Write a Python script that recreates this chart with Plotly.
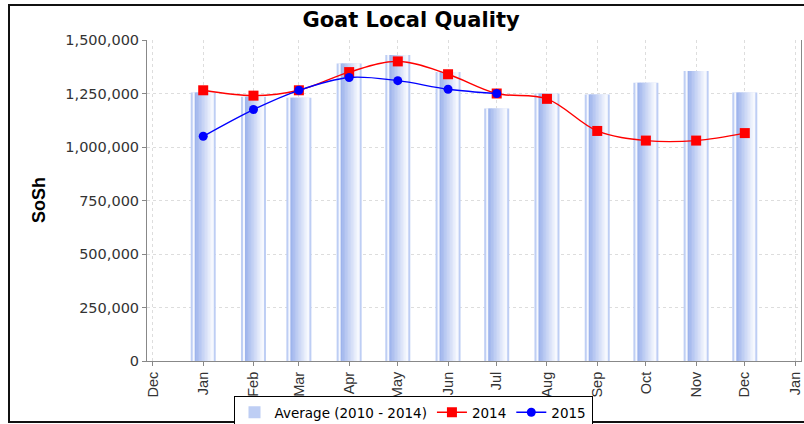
import plotly.graph_objects as go

# ---------------- data ----------------
months = ["2014-01-01", "2014-02-01", "2014-03-01", "2014-04-01", "2014-05-01", "2014-06-01",
          "2014-07-01", "2014-08-01", "2014-09-01", "2014-10-01", "2014-11-01", "2014-12-01"]
avg_2010_2014 = [1255000, 1235000, 1230000, 1390000, 1430000, 1350000,
                 1180000, 1250000, 1245000, 1300000, 1355000, 1255000]
y2014 = [1265000, 1240000, 1265000, 1350000, 1400000, 1340000,
         1250000, 1225000, 1075000, 1030000, 1030000, 1065000]
months_2015 = months[:7]
y2015 = [1050000, 1175000, 1265000, 1325000, 1310000, 1270000, 1250000]

tick_dates = ["2013-12-01"] + months + ["2015-01-01"]
tick_labels = ["Dec", "Jan", "Feb", "Mar", "Apr", "May", "Jun", "Jul", "Aug", "Sep", "Oct", "Nov", "Dec", "Jan"]
y_ticks = [0, 250000, 500000, 750000, 1000000, 1250000, 1500000]

FONT_WIDE = "DejaVu Sans, Verdana, sans-serif"
FONT = "Liberation Sans, Arial, sans-serif"

# ---------------- geometry helpers (pixel -> ms on the date axis) ----------------
DAY_MS = 86400000
PX = (396 / 642) * DAY_MS   # one screen pixel in axis units

fig = go.Figure()

# outer light frame of each bar
fig.add_trace(go.Bar(x=months, y=avg_2010_2014, name="Average (2010 - 2014)",
                     width=[25 * PX] * 12, offset=[-12.5 * PX] * 12,
                     marker=dict(color="rgb(190,206,244)", line=dict(width=0)),
                     hoverinfo="skip"))
# white gap inside
fig.add_trace(go.Bar(x=months, y=avg_2010_2014, showlegend=False,
                     width=[21 * PX] * 12, offset=[-10.5 * PX] * 12,
                     marker=dict(color="rgb(246,248,254)", line=dict(width=0)),
                     hoverinfo="skip"))
# gradient body
n = 12
left_c = (158, 180, 236)
right_c = (246, 248, 254)
body_left = -8.5
body_w = 18.0
for i in range(n):
    t = i / (n - 1)
    c = tuple(int(round(left_c[k] + (right_c[k] - left_c[k]) * t)) for k in range(3))
    fig.add_trace(go.Bar(x=months, y=avg_2010_2014, showlegend=False,
                         width=[(body_w / n + 0.6) * PX] * 12,
                         offset=[(body_left + i * body_w / n) * PX] * 12,
                         marker=dict(color="rgb(%d,%d,%d)" % c, line=dict(width=0)),
                         hoverinfo="skip"))

fig.add_trace(go.Scatter(x=months, y=y2014, name="2014", mode="lines+markers",
                         line=dict(color="#ff0000", width=1.4, shape="spline"),
                         marker=dict(symbol="square", size=10, color="#ff0000")))
fig.add_trace(go.Scatter(x=months_2015, y=y2015, name="2015", mode="lines+markers",
                         line=dict(color="#0000ff", width=1.4, shape="spline"),
                         marker=dict(symbol="circle", size=9, color="#0000ff")))

L, R, T, B = 147, 3, 40, 63
W, H = 804, 424
pw, ph = W - L - R, H - T - B

def px_x(x):
    return (x - L) / pw

def px_y(y):
    return (H - B - y) / ph

fig.update_layout(
    width=W, height=H,
    margin=dict(l=L, r=R, t=T, b=B, autoexpand=False),
    paper_bgcolor="white", plot_bgcolor="white",
    barmode="overlay",
    font=dict(family=FONT_WIDE, size=14, color="#333"),
    title=dict(text="<b>Goat Local Quality</b>", x=411 / W, xref="container", xanchor="center",
               y=1 - 20 / H, yref="container", yanchor="middle",
               font=dict(family=FONT_WIDE, size=21, color="#000")),
    showlegend=True,
    legend=dict(orientation="h", x=px_x(413), xanchor="center", y=px_y(396), yanchor="top",
                bordercolor="#000", borderwidth=1, bgcolor="white",
                font=dict(family=FONT_WIDE, size=13.5, color="#000"),
                itemwidth=30, tracegroupgap=0),
    xaxis=dict(type="date", range=["2013-11-27 08:00", "2015-01-04 16:00"],
               tickvals=tick_dates, ticktext=tick_labels, tickangle=-90,
               ticks="outside", ticklen=4, tickcolor="#888",
               showline=True, linecolor="#888", linewidth=1,
               showgrid=True, gridcolor="#dddddd", griddash="3px,3px", gridwidth=1,
               tickfont=dict(family=FONT, size=14.5, color="#333"),
               automargin=False, zeroline=False),
    yaxis=dict(range=[0, 1500000], tickvals=y_ticks, tickformat=",d",
               ticks="outside", ticklen=4, tickcolor="#888",
               showline=True, linecolor="#888", linewidth=1, mirror=True,
               showgrid=True, gridcolor="#dddddd", griddash="3px,3px", gridwidth=1,
               tickfont=dict(family=FONT_WIDE, size=14.5, color="#333"),
               automargin=False, zeroline=False),
    annotations=[dict(text="<b>SoSh</b>", textangle=-90, x=px_x(39), y=px_y(200),
                      xref="paper", yref="paper", xanchor="center", yanchor="middle",
                      showarrow=False,
                      font=dict(family=FONT, size=18, color="#000"))],
    shapes=[dict(type="rect", xref="paper", yref="paper",
                 x0=px_x(9), x1=px_x(820), y0=px_y(422), y1=px_y(5),
                 line=dict(color="#111", width=2), layer="above")],
)

fig.write_html("out.html", config={"displayModeBar": False},
               post_script="document.body.style.margin='0';document.body.style.padding='0';"
                           "document.body.style.overflow='hidden';")
